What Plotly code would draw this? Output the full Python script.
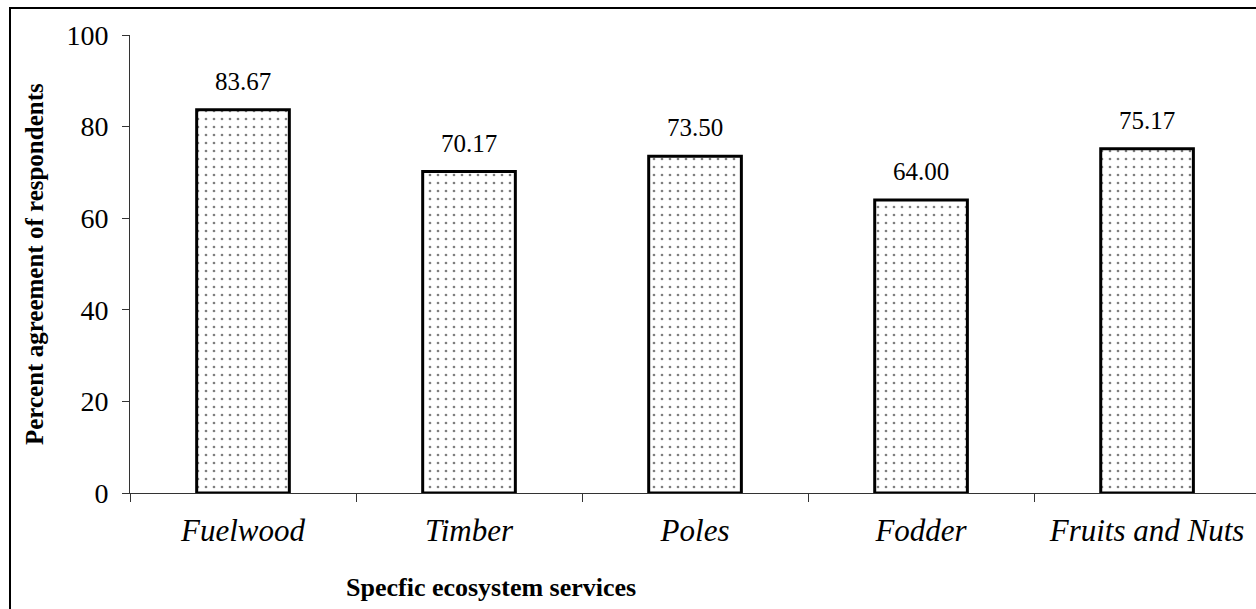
import plotly.graph_objects as go

services = ["Fuelwood", "Timber", "Poles", "Fodder", "Fruits and Nuts"]
agreement = [83.67, 70.17, 73.50, 64.00, 75.17]
y_ticks = [0, 20, 40, 60, 80, 100]

FONT = "Liberation Serif, Times New Roman, serif"

fig = go.Figure(
    go.Bar(
        x=services,
        y=agreement,
        width=0.41,
        marker=dict(
            color="white",
            line=dict(color="black", width=3),
            pattern=dict(shape=".", fgcolor="black", bgcolor="white", size=8, solidity=0.09),
        ),
        cliponaxis=False,
    )
)

# value labels sitting above each bar
value_labels = [
    dict(
        x=s, y=v, xref="x", yref="y",
        text=f"{v:.2f}",
        showarrow=False,
        yanchor="bottom",
        yshift=13,
        font=dict(family=FONT, size=25, color="black"),
    )
    for s, v in zip(services, agreement)
]

fig.update_layout(
    width=1256,
    height=609,
    margin=dict(l=130, r=0, t=35, b=116),
    paper_bgcolor="white",
    plot_bgcolor="white",
    showlegend=False,
    font=dict(family=FONT, color="black"),
    xaxis=dict(
        type="category",
        range=[-0.5, 4.482],
        tickson="boundaries",
        ticks="outside",
        ticklen=8,
        tickcolor="#333",
        showline=True,
        linecolor="#333",
        linewidth=1,
        showgrid=False,
        tickfont=dict(family=FONT, size=31, color="black", style="italic"),
        ticklabelstandoff=10,
    ),
    yaxis=dict(
        range=[0, 100],
        tickvals=y_ticks,
        ticks="outside",
        ticklen=7,
        tickcolor="#333",
        showline=True,
        linecolor="#333",
        linewidth=1,
        showgrid=False,
        zeroline=False,
        tickfont=dict(family=FONT, size=28, color="black"),
        ticklabelstandoff=8,
    ),
    shapes=[
        dict(
            type="rect", xref="paper", yref="paper",
            x0=-120 / 1126, x1=1.05, y0=-0.3, y1=1 + 27 / 458,
            line=dict(color="black", width=2), fillcolor="rgba(0,0,0,0)", layer="below",
        )
    ],
    annotations=value_labels + [
        dict(
            text="<b>Specfic ecosystem services</b>",
            xref="paper", yref="paper",
            x=(491 - 130) / 1126, y=-(587 - 493) / 458,
            xanchor="center", yanchor="middle",
            showarrow=False,
            font=dict(family=FONT, size=26, color="black"),
        ),
        dict(
            text="<b>Percent agreement of respondents</b>",
            xref="paper", yref="paper",
            x=-(130 - 34) / 1126, y=0.5,
            xanchor="center", yanchor="middle",
            textangle=-90,
            showarrow=False,
            font=dict(family=FONT, size=25, color="black"),
        ),
    ],
)

fig.write_html("out.html")
